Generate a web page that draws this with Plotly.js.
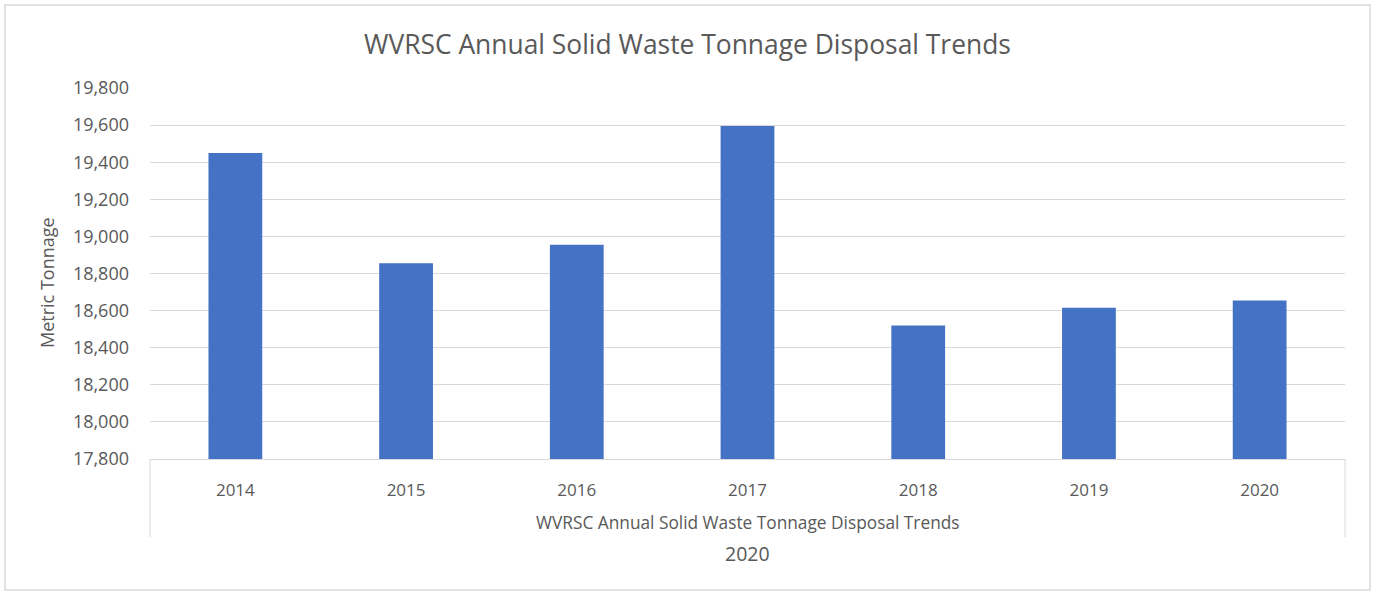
<!DOCTYPE html>
<html>
<head>
<meta charset="utf-8">
<script src="https://cdn.plot.ly/plotly-3.0.1.min.js"></script>
<style>
html,body{margin:0;padding:0;background:#fff;}
#chart{width:1375px;height:592px;}
</style>
</head>
<body>
<div id="chart"></div>
<script>
const years = ["2014","2015","2016","2017","2018","2019","2020"];
const tonnage = [19450, 18855, 18955, 19595, 18520, 18615, 18655];
const yTicks = [17800,18000,18200,18400,18600,18800,19000,19200,19400,19600,19800];
const yTickText = ["17,800","18,000","18,200","18,400","18,600","18,800","19,000","19,200","19,400","19,600","19,800"];
const chartTitle = "WVRSC Annual Solid Waste Tonnage Disposal Trends";
const groupLabel = "WVRSC Annual Solid Waste Tonnage Disposal Trends";
const yearLabel = "2020";
const yTitle = "Metric Tonnage";

const font = "'Open Sans', sans-serif";
const gray = "#595959";
const lineGray = "#d9d9d9";

const L = 150, R = 1345, T = 88, B = 459, W = 1375, H = 592;
const px = x => (x - L) / (R - L);
const py = y => (B - y) / (B - T);

const trace = {
  type: "bar",
  x: years,
  y: tonnage,
  marker: {color: "#4472C4"},
  hoverinfo: "x+y"
};

const layout = {
  width: W, height: H,
  margin: {l: L, r: W - R, t: T, b: H - B, pad: 0},
  paper_bgcolor: "#fff",
  plot_bgcolor: "#fff",
  showlegend: false,
  bargap: 0.685,
  title: {text: chartTitle, font: {family: font, size: 26.4, color: gray}, x: 0.5, xanchor: "center", y: 1 - 45/H, yanchor: "middle"},
  xaxis: {
    type: "category",
    showgrid: false,
    showline: true, linecolor: lineGray, linewidth: 1,
    ticks: "", tickfont: {family: font, size: 17, color: gray},
    ticklabelstandoff: 16
  },
  yaxis: {
    range: [17800, 19800],
    tickvals: yTicks, ticktext: yTickText,
    showgrid: true, gridcolor: lineGray, gridwidth: 1,
    zeroline: false, showline: false, ticks: "",
    tickfont: {family: font, size: 18, color: gray},
    ticklabelstandoff: 20
  },
  annotations: [
    {xref: "paper", yref: "paper", x: px(47), y: py(283), text: yTitle, textangle: -90, showarrow: false, xanchor: "center", yanchor: "middle", font: {family: font, size: 18, color: gray}},
    {xref: "paper", yref: "paper", x: 0.5, y: py(522), text: groupLabel, showarrow: false, xanchor: "center", yanchor: "middle", font: {family: font, size: 17.3, color: gray}},
    {xref: "paper", yref: "paper", x: 0.5, y: py(553), text: yearLabel, showarrow: false, xanchor: "center", yanchor: "middle", font: {family: font, size: 19.5, color: gray}}
  ],
  shapes: [
    {type: "rect", xref: "paper", yref: "paper", x0: px(5), x1: px(1370), y0: py(590), y1: py(5), line: {color: lineGray, width: 1.5}, layer: "below"},
    {type: "line", xref: "paper", yref: "paper", x0: px(150), x1: px(150), y0: py(459), y1: py(537), line: {color: lineGray, width: 1}},
    {type: "line", xref: "paper", yref: "paper", x0: px(1345), x1: px(1345), y0: py(459), y1: py(537), line: {color: lineGray, width: 1}}
  ]
};

Plotly.newPlot("chart", [trace], layout, {displayModeBar: false, staticPlot: true});
</script>
</body>
</html>
